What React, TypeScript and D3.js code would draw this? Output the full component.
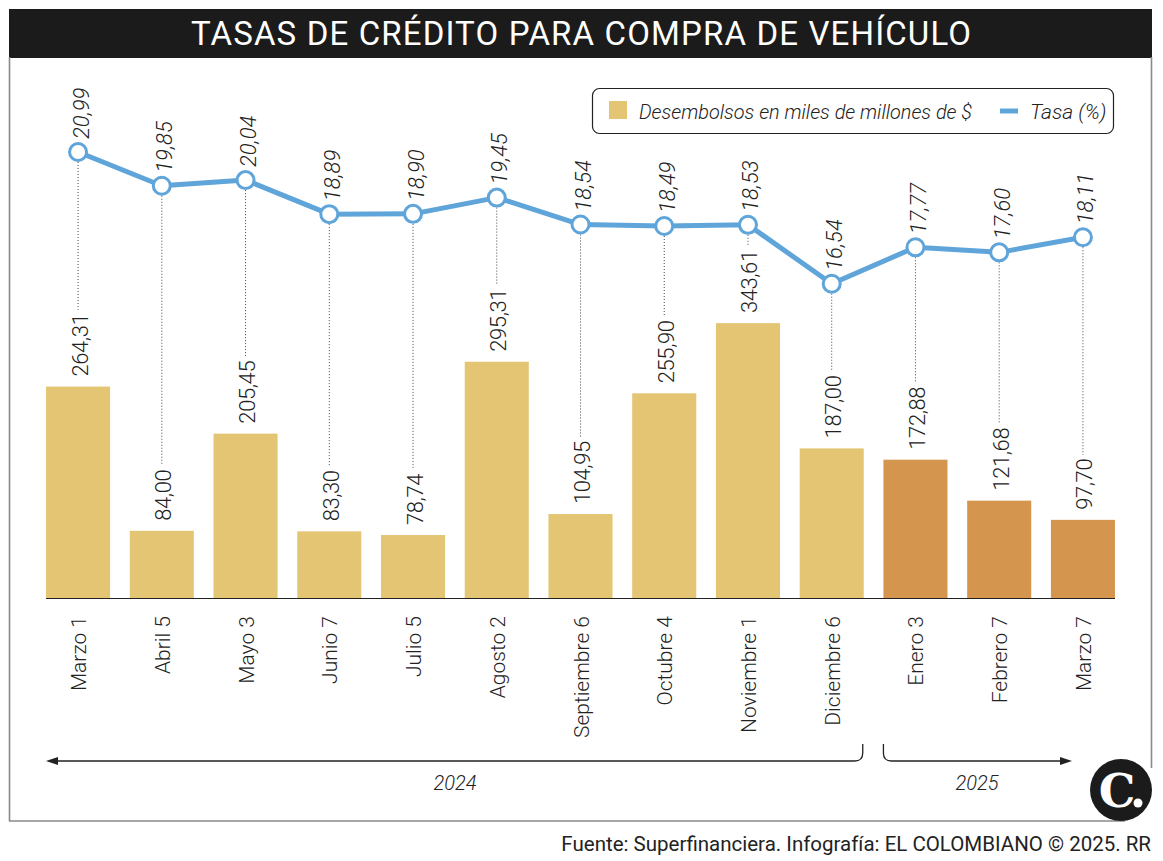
import React, { useEffect, useRef } from "react";
import * as d3 from "d3";

const categories = ["Marzo 1", "Abril 5", "Mayo 3", "Junio 7", "Julio 5", "Agosto 2", "Septiembre 6", "Octubre 4", "Noviembre 1", "Diciembre 6", "Enero 3", "Febrero 7", "Marzo 7"];
const years = ["2024", "2024", "2024", "2024", "2024", "2024", "2024", "2024", "2024", "2024", "2025", "2025", "2025"];
const desembolsos = [264.31, 84.0, 205.45, 83.3, 78.74, 295.31, 104.95, 255.9, 343.61, 187.0, 172.88, 121.68, 97.7];
const tasa = [20.99, 19.85, 20.04, 18.89, 18.9, 19.45, 18.54, 18.49, 18.53, 16.54, 17.77, 17.6, 18.11];

const TITLE = "TASAS DE CRÉDITO PARA COMPRA DE VEHÍCULO";
const LEGEND_BARS = "Desembolsos en miles de millones de $";
const LEGEND_LINE = "Tasa (%)";
const SOURCE = "Fuente: Superfinanciera. Infografía: EL COLOMBIANO © 2025. RR";

const W = 1163;
const H = 861;
const FONT = "Roboto, 'Noto Sans', sans-serif";
const GOLD = "#e4c574";
const ORANGE = "#d4954e";
const BLUE = "#5fa5da";

const fmt = (v: number) => d3.format(".2f")(v).replace(".", ",");

export default function App() {
  const ref = useRef<SVGSVGElement>(null);

  useEffect(() => {
    const svg = d3.select(ref.current);
    svg.selectAll("*").remove();

    // Frame + title
    svg.append("rect").attr("x", 9).attr("y", 9).attr("width", 1143).attr("height", 49).attr("fill", "#1b1b1b");
    svg.append("text").attr("x", 581).attr("y", 45).attr("text-anchor", "middle")
      .attr("fill", "#fff").attr("font-family", FONT).attr("font-size", 33).attr("font-weight", 400)
      .attr("textLength", 780).attr("lengthAdjust", "spacing")
      .text(TITLE);
    const frame = svg.append("g").attr("stroke", "#8a8a8a").attr("stroke-width", 1.6).attr("fill", "none");
    frame.append("line").attr("x1", 9.5).attr("y1", 57).attr("x2", 9.5).attr("y2", 821);
    frame.append("line").attr("x1", 9).attr("y1", 821).attr("x2", 1125).attr("y2", 821);
    frame.append("line").attr("x1", 1151.5).attr("y1", 57).attr("x2", 1151.5).attr("y2", 768);

    const x = d3.scaleBand<string>()
      .domain(categories.map((c, i) => `${i}`))
      .range([36.2, 1124.8])
      .paddingInner(0.235)
      .paddingOuter(0.1175);
    const yBar = d3.scaleLinear().domain([0, 400]).range([598, 278]);
    const yRate = d3.scaleLinear().domain([15, 21]).range([329.3, 151.7]);
    const cx = (i: number) => (x(`${i}`) as number) + x.bandwidth() / 2;

    // Bars
    svg.append("g").selectAll("rect").data(desembolsos).join("rect")
      .attr("x", (_, i) => x(`${i}`) as number)
      .attr("y", (d) => yBar(d))
      .attr("width", x.bandwidth())
      .attr("height", (d) => yBar(0) - yBar(d))
      .attr("fill", (_, i) => (years[i] === "2025" ? ORANGE : GOLD));

    // Baseline
    svg.append("line").attr("x1", 46).attr("x2", 1115).attr("y1", 598.5).attr("y2", 598.5)
      .attr("stroke", "#222").attr("stroke-width", 1.2);

    // Bar value labels
    const barLabels = svg.append("g").selectAll("text").data(desembolsos).join("text")
      .attr("transform", (d, i) => `translate(${cx(i) + 2},${yBar(d) - 10}) rotate(-90)`)
      .attr("dominant-baseline", "central")
      .attr("font-family", FONT).attr("font-size", 22).attr("font-weight", 300).attr("fill", "#222")
      .attr("letter-spacing", -0.4)
      .text((d) => fmt(d));
    const widths: number[] = [];
    barLabels.each(function () { widths.push((this as SVGTextElement).getComputedTextLength()); });

    // Dotted connectors
    svg.append("g").selectAll("line").data(tasa).join("line")
      .attr("x1", (_, i) => cx(i)).attr("x2", (_, i) => cx(i))
      .attr("y1", (d) => yRate(d) + 10)
      .attr("y2", (_, i) => yBar(desembolsos[i]) - 10 - widths[i] - 4)
      .attr("stroke", "#444").attr("stroke-width", 1).attr("stroke-dasharray", "1,2");

    // Rate line
    const line = d3.line<number>().x((_, i) => cx(i)).y((d) => yRate(d));
    svg.append("path").datum(tasa).attr("d", line).attr("fill", "none")
      .attr("stroke", BLUE).attr("stroke-width", 5).attr("stroke-linejoin", "round");
    svg.append("g").selectAll("circle").data(tasa).join("circle")
      .attr("cx", (_, i) => cx(i)).attr("cy", (d) => yRate(d)).attr("r", 8.5)
      .attr("fill", "#fff").attr("stroke", BLUE).attr("stroke-width", 3);
    svg.append("g").selectAll("text").data(tasa).join("text")
      .attr("transform", (d, i) => `translate(${cx(i) + 3},${yRate(d) - 13}) rotate(-90)`)
      .attr("dominant-baseline", "central")
      .attr("font-family", FONT).attr("font-size", 22).attr("font-weight", 300)
      .attr("font-style", "italic").attr("fill", "#222")
      .text((d) => fmt(d));

    // Category labels
    svg.append("g").selectAll("text").data(categories).join("text")
      .attr("transform", (_, i) => `translate(${cx(i) + 1},616) rotate(-90)`)
      .attr("text-anchor", "end").attr("dominant-baseline", "central")
      .attr("font-family", FONT).attr("font-size", 21).attr("font-weight", 300).attr("fill", "#222")
      .text((d) => d);

    // Year brackets
    const i24 = years.lastIndexOf("2024");
    const i25 = years.indexOf("2025");
    const br24 = (x(`${i24}`) as number) + x.bandwidth() - 1;
    const br25 = (x(`${i25}`) as number);
    svg.append("path")
      .attr("d", `M56,761 L${br24 - 8},761 Q${br24},761 ${br24},753 L${br24},744`)
      .attr("fill", "none").attr("stroke", "#222").attr("stroke-width", 1.3);
    svg.append("path").attr("d", `M46,761 L58,757 L58,765 Z`).attr("fill", "#222");
    svg.append("path")
      .attr("d", `M${br25},744 L${br25},753 Q${br25},761 ${br25 + 8},761 L1062,761`)
      .attr("fill", "none").attr("stroke", "#222").attr("stroke-width", 1.3);
    svg.append("path").attr("d", `M1072,761 L1060,757 L1060,765 Z`).attr("fill", "#222");
    svg.append("text").attr("x", 455).attr("y", 790).attr("text-anchor", "middle")
      .attr("font-family", FONT).attr("font-size", 20).attr("font-weight", 300).attr("font-style", "italic")
      .attr("fill", "#222").text("2024");
    svg.append("text").attr("x", 977).attr("y", 790).attr("text-anchor", "middle")
      .attr("font-family", FONT).attr("font-size", 20).attr("font-weight", 300).attr("font-style", "italic")
      .attr("fill", "#222").text("2025");

    // Legend
    svg.append("rect").attr("x", 592.5).attr("y", 88.5).attr("width", 521).attr("height", 45).attr("rx", 7)
      .attr("fill", "#fff").attr("stroke", "#222").attr("stroke-width", 1.2);
    svg.append("rect").attr("x", 609).attr("y", 101).attr("width", 18).attr("height", 18).attr("fill", GOLD);
    svg.append("text").attr("x", 639).attr("y", 119).attr("font-family", FONT).attr("font-size", 21)
      .attr("font-weight", 300).attr("font-style", "italic").attr("fill", "#222")
      .attr("textLength", 333).attr("lengthAdjust", "spacingAndGlyphs").text(LEGEND_BARS);
    svg.append("line").attr("x1", 1000).attr("x2", 1018).attr("y1", 111).attr("y2", 111)
      .attr("stroke", BLUE).attr("stroke-width", 5);
    svg.append("text").attr("x", 1030).attr("y", 119).attr("font-family", FONT).attr("font-size", 21)
      .attr("font-weight", 300).attr("font-style", "italic").attr("fill", "#222").text(LEGEND_LINE);

    // Logo
    svg.append("circle").attr("cx", 1121).attr("cy", 790).attr("r", 31).attr("fill", "#1b1b1b");
    svg.append("text").attr("x", 1117).attr("y", 807).attr("text-anchor", "middle")
      .attr("font-family", "'DejaVu Serif', 'Liberation Serif', serif").attr("font-weight", 700)
      .attr("font-size", 46).attr("fill", "#fff").text("C");
    svg.append("circle").attr("cx", 1138).attr("cy", 803).attr("r", 4.5).attr("fill", "#fff");

    // Source
    svg.append("text").attr("x", 1151).attr("y", 851).attr("text-anchor", "end")
      .attr("font-family", FONT).attr("font-size", 20.5).attr("font-weight", 400).attr("fill", "#222")
      .text(SOURCE);
  }, []);

  return (
    <svg ref={ref} width={W} height={H} style={{ position: "absolute", left: 0, top: 0, background: "#fff" }} />
  );
}
